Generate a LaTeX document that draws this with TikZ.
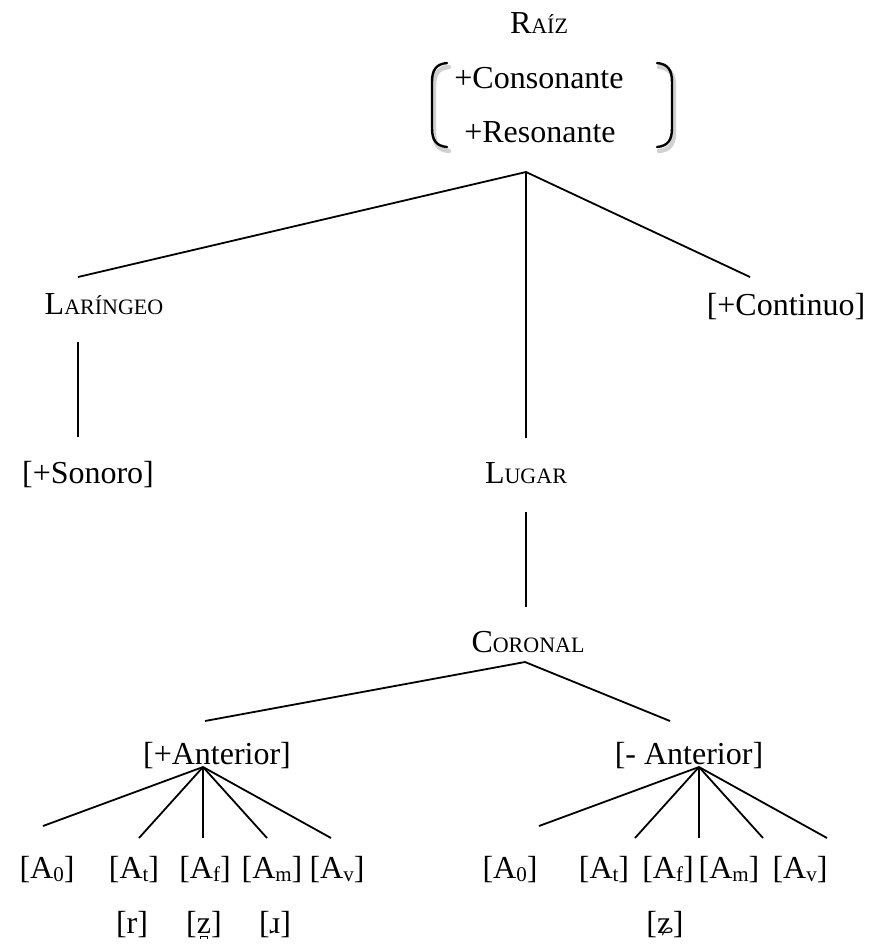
\documentclass[tikz,border=0pt]{standalone}
\usepackage{fontspec}
\setmainfont{Liberation Serif}
\usetikzlibrary{positioning}

% versalitas hechas a mano (Liberation no trae smcp)
\newcommand{\versal}[2]{#1{\fontsize{11}{13}\selectfont #2}}
\newcommand{\subidx}[1]{\raisebox{-0.1em}{\fontsize{10.5}{12}\selectfont #1}}
% puente dental debajo de la letra
\newcommand{\dental}[1]{\ooalign{#1\cr\hidewidth\rule[-0.2em]{0.035em}{0.11em}\rule[-0.125em]{0.17em}{0.035em}\rule[-0.2em]{0.035em}{0.11em}\hidewidth\cr}}

\begin{document}
\begin{tikzpicture}[x=0.5pt,y=-0.5pt,line width=0.9pt,
                    every node/.style={font=\fontsize{16}{19}\selectfont, inner sep=0pt, anchor=base},
                    paren/.style={line width=1.2pt, line cap=round},
                    sombra/.style={black!18, line width=2.2pt, line cap=round}]
\useasboundingbox (0,0) rectangle (873,944);

% raiz y sus rasgos
\node (raiz) at (539,33) {\versal{R}{AÍZ}};
\node (cons) at (539,88) {+Consonante};
\node (reso) at (540,142) {+Resonante};
\draw[sombra] (449,67) .. controls (438,68) and (434,74) .. (434,86) -- (434,132) .. controls (434,144) and (438,150) .. (449,151);
\draw[sombra] (659,67) .. controls (670,68) and (674,74) .. (674,86) -- (674,132) .. controls (674,144) and (670,150) .. (659,151);
\draw[paren] (447,63) .. controls (436,64) and (432,70) .. (432,82) -- (432,128) .. controls (432,140) and (436,146) .. (447,147);
\draw[paren] (657,63) .. controls (668,64) and (672,70) .. (672,82) -- (672,128) .. controls (672,140) and (668,146) .. (657,147);
\coordinate (raiz-out) at (526,172);

% primer nivel
\node (laringeo) at (104,314) {\versal{L}{ARÍNGEO}};
\node (continuo) at (786,315) {[+Continuo]};
\node (lugar) at (526,483) {\versal{L}{UGAR}};
\coordinate (laringeo-in) at (78,277);
\coordinate (continuo-in) at (750,277);
\coordinate (lugar-in) at (526,438);
\draw (raiz-out) -- (laringeo-in);
\draw (raiz-out) -- (continuo-in);
\draw (raiz-out) -- (lugar-in);

% laringeo
\node (sonoro) at (88,483) {[+Sonoro]};
\coordinate (laringeo-out) at (78,342);
\coordinate (sonoro-in) at (78,437);
\draw (laringeo-out) -- (sonoro-in);

% lugar > coronal
\node (coronal) at (528,652) {\versal{C}{ORONAL}};
\coordinate (lugar-out) at (526,512);
\coordinate (coronal-in) at (526,607);
\draw (lugar-out) -- (coronal-in);

\node (mas) at (217,764) {[+Anterior]};
\node (menos) at (689,764) {[- Anterior]};
\coordinate (coronal-out) at (525,662);
\coordinate (mas-in) at (205,721);
\coordinate (menos-in) at (670,721);
\draw (coronal-out) -- (mas-in);
\draw (coronal-out) -- (menos-in);

% hojas A
\coordinate (mas-out) at (203,767);
\coordinate (menos-out) at (699,767);
\foreach \n/\lx/\ex/\ey/\rasgo in {0/47/43/826/0, 1/134/139/838/t, 2/205/203/838/f, 3/272/267/838/m, 4/337/331/838/v}{
  \node (mas-\n) at (\lx,878) {[A\subidx{\rasgo}]};
  \coordinate (mas-\n-in) at (\ex,\ey);
  \draw (mas-out) -- (mas-\n-in);
}
\foreach \n/\lx/\ex/\ey/\rasgo in {0/510/539/826/0, 1/604/635/838/t, 2/668/699/838/f, 3/729/763/838/m, 4/800/827/838/v}{
  \node (menos-\n) at (\lx,878) {[A\subidx{\rasgo}]};
  \coordinate (menos-\n-in) at (\ex,\ey);
  \draw (menos-out) -- (menos-\n-in);
}

% segmentos
\node (seg-r) at (132,933) {[r]};
\node (seg-z) at (204,933) {[\dental{z}]};
\node (seg-ri) at (275,933) {[ɹ]};
\node (seg-zc) at (665,933) {[ʑ]};
\end{tikzpicture}
\end{document}
